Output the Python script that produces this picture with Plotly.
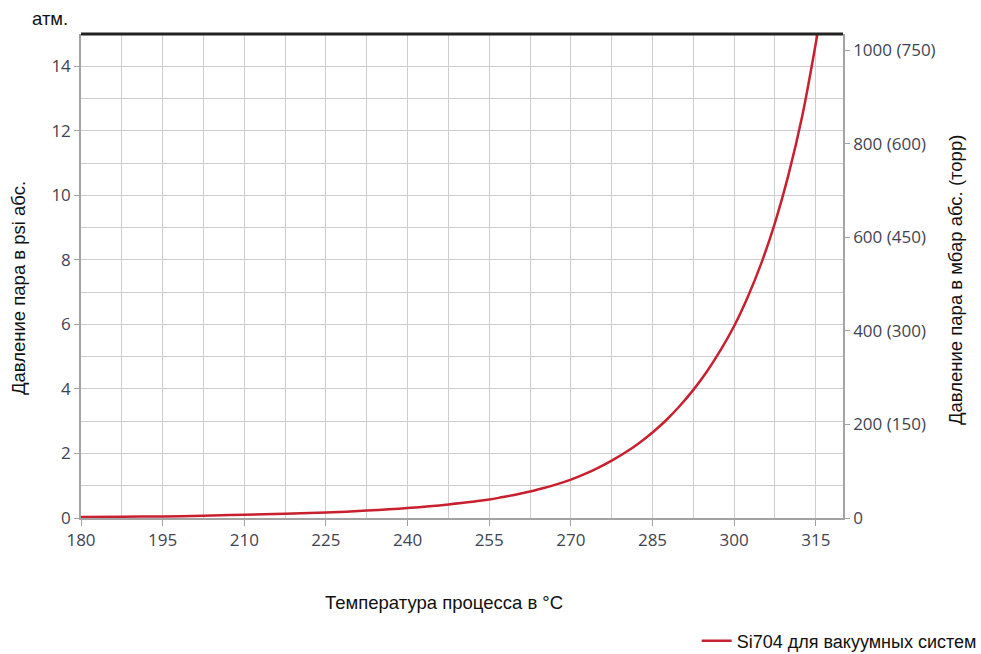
import plotly.graph_objects as go

# Data
temps = [180, 187.5, 195, 202.5, 210, 217.5, 225, 232.5, 240, 247.5,
         255, 257.5, 260, 262.5, 265, 267.5, 270, 272.5, 275, 277.5, 280, 282.5,
         285, 287.5, 290, 292.5, 295, 297.5, 300, 302.5, 305, 307.5, 310, 312.5,
         315.3]
psi = [0.03, 0.04, 0.05, 0.07, 0.10, 0.13, 0.17, 0.23, 0.31, 0.42,
       0.57, 0.65, 0.73, 0.82, 0.93, 1.05, 1.19, 1.36, 1.555, 1.78, 2.03, 2.32,
       2.65, 3.03, 3.47, 3.97, 4.54, 5.2, 5.95, 6.85, 7.9, 9.15, 10.65, 12.45,
       15.0]

x_ticks = [180, 195, 210, 225, 240, 255, 270, 285, 300, 315]
y_ticks = [0, 2, 4, 6, 8, 10, 12, 14]
mbar_ticks = [0, 200, 400, 600, 800, 1000]
mbar_labels = ["0", "200 (150)", "400 (300)", "600 (450)", "800 (600)", "1000 (750)"]
series_name = "Si704 для вакуумных систем"

PSI_PER_MBAR = 14.5038 / 1000.0

tick_font = dict(family="Open Sans", size=17, color="#3f4452")
title_font = dict(family="Liberation Sans, Arial", size=18.5, color="#111111")
grid_c = "#cdcdcd"
axis_c = "#a3a3a3"

fig = go.Figure()
fig.add_trace(go.Scatter(
    x=temps, y=psi, mode="lines", name=series_name,
    line=dict(color="#c8202f", width=2.5, shape="spline", smoothing=1.0),
))
# invisible trace to activate the right axis
fig.add_trace(go.Scatter(x=[temps[0]], y=[0], yaxis="y2", mode="lines",
                         showlegend=False, hoverinfo="skip",
                         line=dict(color="rgba(0,0,0,0)")))

fig.update_layout(
    width=981, height=654,
    margin=dict(l=81, r=138, t=34, b=136, autoexpand=False),
    paper_bgcolor="white", plot_bgcolor="white",
    showlegend=True,
    legend=dict(x=1.182, xanchor="right", y=(518 - 641) / 484.0, yanchor="middle",
                font=dict(family="Liberation Sans, Arial", size=18, color="#111111"),
                bgcolor="rgba(0,0,0,0)", itemwidth=30),
    xaxis=dict(
        range=[180, 320], tickvals=x_ticks, ticks="outside", ticklen=6,
        tickcolor=axis_c, tickfont=tick_font, showline=True, linecolor=axis_c,
        linewidth=1.5, showgrid=True, gridcolor=grid_c, gridwidth=1,
        zeroline=False,
        minor=dict(dtick=7.5, tick0=180, showgrid=True, gridcolor=grid_c,
                   gridwidth=1, ticks=""),
    ),
    yaxis=dict(
        range=[0, 15], tickvals=y_ticks, ticks="outside", ticklen=5,
        tickcolor=axis_c, tickfont=tick_font, showline=True, linecolor=axis_c,
        linewidth=1.5, showgrid=True, gridcolor=grid_c, gridwidth=1,
        zeroline=False,
        minor=dict(dtick=1, tick0=0, showgrid=True, gridcolor=grid_c,
                   gridwidth=1, ticks=""),
    ),
    yaxis2=dict(
        overlaying="y", side="right", range=[0, 15 / PSI_PER_MBAR],
        tickvals=mbar_ticks, ticktext=mbar_labels, ticks="outside", ticklen=5,
        tickcolor=axis_c, tickfont=tick_font, showline=True, linecolor=axis_c,
        linewidth=1.5, showgrid=False, zeroline=False,
    ),
)

# thick top line (atmospheric pressure)
fig.add_shape(type="line", xref="paper", yref="paper", x0=0, x1=1, y0=1, y1=1,
              line=dict(color="#222222", width=3))

def px_x(p):
    return (p - 81) / 762.0

def px_y(p):
    return (518 - p) / 484.0

fig.add_annotation(text="атм.", xref="paper", yref="paper", x=px_x(30), y=px_y(18),
                   xanchor="left", yanchor="middle", showarrow=False, font=title_font)
fig.add_annotation(text="Температура процесса в °C", xref="paper", yref="paper",
                   x=px_x(444), y=px_y(602), xanchor="center", yanchor="middle",
                   showarrow=False, font=title_font)
fig.add_annotation(text="Давление пара в psi абс.", xref="paper", yref="paper",
                   x=px_x(18), y=px_y(288), xanchor="center", yanchor="middle",
                   textangle=-90, showarrow=False, font=title_font)
fig.add_annotation(text="Давление пара в мбар абс. (торр)", xref="paper", yref="paper",
                   x=px_x(955), y=px_y(280), xanchor="center", yanchor="middle",
                   textangle=-90, showarrow=False, font=title_font)

fig.write_html("out.html")
